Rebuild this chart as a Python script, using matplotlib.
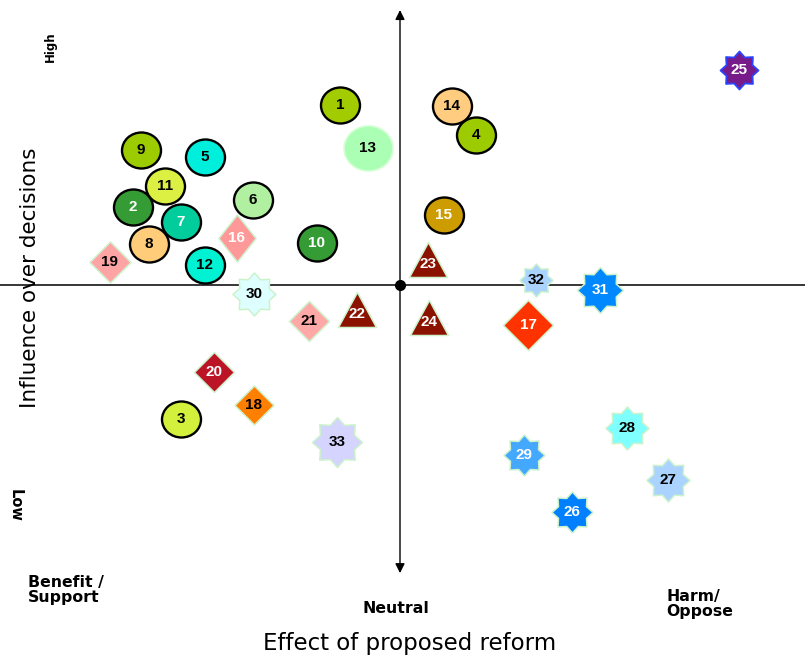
import numpy as np
import matplotlib
matplotlib.use("Agg")
import matplotlib.pyplot as plt
from matplotlib.path import Path

# ---- data ----
ids = list(range(1, 34))
effect = [-1.5, -6.68, -5.48, 1.9, -4.88, -3.68, -5.48, -6.28, -6.48, -2.08,
          -5.88, -4.88, -0.8, 1.3, 1.1, -4.08, 3.2, -3.65, -7.25, -4.65,
          -2.28, -1.08, 0.7, 0.72, 8.48, 4.3, 6.7, 5.68, 3.1, -3.65,
          5.0, 3.4, -1.58]
influence = [6.43, 2.79, -4.79, 5.36, 4.57, 3.04, 2.25, 1.46, 4.82, 1.5,
             3.54, 0.71, 4.89, 6.39, 2.5, 1.68, -1.43, -4.29, 0.82, -3.11,
             -1.29, -1.04, 0.75, -1.32, 7.68, -8.11, -6.96, -5.11, -6.07, -0.32,
             -0.18, 0.18, -5.61]
shapes = ['o'] * 15 + ['D', 'D', 'D', 'D', 'D', 'D'] + ['^', '^', '^'] + ['*'] * 9
fills = ['#a2cc00', '#359b35', '#d2f03c', '#9ccc00', '#00eedc', '#b0f0a0', '#00cc9c',
         '#ffcc7a', '#9ccc00', '#359b35', '#dcf044', '#00f2d2', '#aaffb4', '#ffcc80',
         '#cc9c00', '#ff9898', '#ff3300', '#ff8000', '#ffa4a4', '#bb1426', '#ffa8a8',
         '#8c1200', '#8c1200', '#8c1200', '#771a8a', '#0080ff', '#aad4ff', '#80ffff',
         '#44a8ff', '#ddffff', '#0088ff', '#aad4ff', '#d4d4ff']
white_text = {2, 7, 10, 15, 16, 17, 20, 22, 23, 24, 25, 26, 29, 31}
sizes_px = [39, 39, 39, 39, 39, 39, 39, 39, 39, 39, 39, 39, 49, 39, 39,
            47, 50, 39, 41, 40, 40,
            44, 44, 44,
            38, 41, 43, 43, 41, 43, 46, 33, 50]

# ---- marker paths ----
def star8():
    ang = np.deg2rad(90 + np.arange(16) * 22.5)
    r = np.where(np.arange(16) % 2 == 0, 1.0, 0.74)
    v = np.column_stack([r * np.cos(ang), r * np.sin(ang)])
    v = np.vstack([v, v[:1]])
    return Path(v, [Path.MOVETO] + [Path.LINETO] * 15 + [Path.CLOSEPOLY])

def diamond(w=1.0, h=1.0):
    v = [(0, h), (w, 0), (0, -h), (-w, 0), (0, h)]
    return Path(v, [Path.MOVETO] + [Path.LINETO] * 3 + [Path.CLOSEPOLY])

def triangle():
    v = [(0, 22), (19, -13), (-19, -13), (0, 22)]
    return Path(v, [Path.MOVETO] + [Path.LINETO] * 2 + [Path.CLOSEPOLY])

def circle():
    c = Path.unit_circle()
    return Path(c.vertices * np.array([1.04, 0.96]), c.codes)

DPI = 100
fig = plt.figure(figsize=(8.05, 6.58), dpi=DPI)
ax = fig.add_axes([0, 0, 1, 1])
ax.set_xlim(-10, 10.125)
ax.set_ylim(-373 / 28, 285 / 28)
ax.axis('off')

px2pt = 72 / DPI

# axes lines
ax.axhline(0, color='black', lw=1.1, zorder=1)
ax.annotate('', xy=(0, 9.82), xytext=(0, -10.29),
            arrowprops=dict(arrowstyle='<|-|>', color='black', lw=1.0,
                            mutation_scale=14, shrinkA=0, shrinkB=0), zorder=1)
ax.plot([0], [0], 'o', color='black', ms=7, zorder=2)

for i, x, y, sh, fc, spx in zip(ids, effect, influence, shapes, fills, sizes_px):
    if sh == 'o':
        m = circle()
        ec, lw = ('black', 1.7) if i != 13 else ('#d8ffd8', 1.2)
    elif sh == 'D':
        m = diamond(0.79, 1.0) if i == 16 else diamond()
        ec, lw = '#ccf2cc', 1.1
    elif sh == '^':
        m = triangle()
        ec, lw = '#ccf2cc', 1.1
    else:
        m = star8()
        ec, lw = ('#2a44ff', 1.3) if i == 25 else ('#ccf2cc', 1.1)
    ax.plot([x], [y], marker=m, ms=spx * px2pt, mfc=fc, mec=ec, mew=lw,
            linestyle='none', zorder=3)
    ax.text(x, y, str(i), ha='center', va='center', fontsize=11,
            fontweight='bold', family='Liberation Sans',
            color='white' if i in white_text else 'black', zorder=4)

# labels
ax.text(-8.75, 8.5, 'High', rotation=90, ha='center', va='center',
        fontsize=8.5, fontweight='bold', family='DejaVu Sans')
ax.text(-9.63, -7.86, 'Low', rotation=-90, ha='center', va='center',
        fontsize=10.5, fontweight='bold', family='DejaVu Sans')
ax.text(-9.3, -10.89, 'Benefit /\nSupport', ha='left', va='center',
        fontsize=11.3, fontweight='bold', family='DejaVu Sans', linespacing=1.0)
ax.text(-0.1, -11.57, 'Neutral', ha='center', va='center',
        fontsize=11.3, fontweight='bold', family='DejaVu Sans')
ax.text(6.65, -11.39, 'Harm/\nOppose', ha='left', va='center',
        fontsize=11.3, fontweight='bold', family='DejaVu Sans', linespacing=1.0)
ax.text(0.25, -12.79, 'Effect of proposed reform', ha='center', va='center',
        fontsize=16.5, family='DejaVu Sans')
ax.text(-9.25, 0.25, 'Influence over decisions', rotation=90, ha='center',
        va='center', fontsize=15.5, family='DejaVu Sans')

fig.savefig('out.png', dpi=DPI)
